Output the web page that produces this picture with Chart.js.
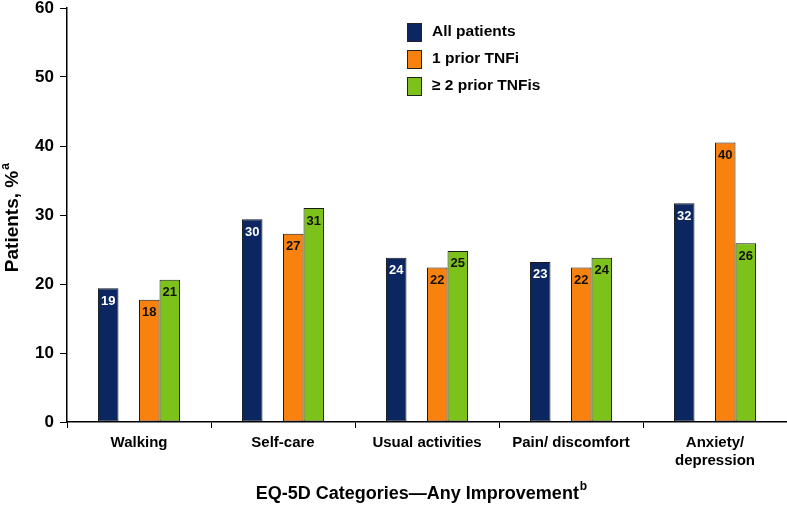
<!DOCTYPE html>
<html>
<head>
<meta charset="utf-8">
<script src="https://cdn.jsdelivr.net/npm/chart.js@4"></script>
<style>
  html, body { margin: 0; padding: 0; background: #fff; }
  #wrap { width: 787px; height: 507px; position: relative; }
</style>
</head>
<body>
<div id="wrap"><canvas id="eqChart"></canvas></div>
<script>
// categories and values (% patients with any improvement)
const categories = ["Walking", "Self-care", "Usual activities", "Pain/ discomfort", ["Anxiety/", "depression"]];
const allPatients = [19.4, 29.4, 23.8, 23.2, 31.7];
const oneTnfi = [17.7, 27.3, 22.4, 22.4, 40.5];
const twoTnfi = [20.6, 31.0, 24.8, 23.8, 25.9];
const shownLabels = [
  [19, 30, 24, 23, 32],
  [18, 27, 22, 22, 40],
  [21, 31, 25, 24, 26]
];
const yTicks = [0, 10, 20, 30, 40, 50, 60];

const FONT = "'Liberation Sans', Arial, sans-serif";
const colors = ["#0b2660", "#f9820f", "#7cc21a"];
const labelColors = ["#ffffff", "#111111", "#111111"];

// bar value labels inside top of bars
const barLabels = {
  id: "barLabels",
  afterDatasetsDraw(chart) {
    const ctx = chart.ctx;
    ctx.save();
    ctx.font = "bold 13px " + FONT;
    ctx.textAlign = "center";
    ctx.textBaseline = "middle";
    [0, 2, 3].forEach((dsIdx, k) => {
      chart.getDatasetMeta(dsIdx).data.forEach((bar, i) => {
        ctx.fillStyle = labelColors[k];
        ctx.fillText(shownLabels[k][i], bar.x, bar.y + 13);
      });
    });
    ctx.restore();
  }
};

// legend + axis titles with superscripts
const extras = {
  id: "extras",
  afterDraw(chart) {
    const ctx = chart.ctx;
    const area = chart.chartArea;
    ctx.save();
    // legend
    const items = [0, 2, 3];
    ctx.font = "bold 15.5px " + FONT;
    ctx.textBaseline = "middle";
    items.forEach((dsIdx, k) => {
      const ds = chart.data.datasets[dsIdx];
      const y = 32 + k * 27;
      ctx.fillStyle = ds.backgroundColor;
      ctx.fillRect(407, y - 9, 15, 19);
      ctx.strokeStyle = "#222";
      ctx.lineWidth = 1;
      ctx.strokeRect(407.5, y - 8.5, 14, 18);
      ctx.fillStyle = "#000";
      ctx.textAlign = "left";
      ctx.fillText(ds.label, 432, y);
    });

    // x title
    ctx.fillStyle = "#000";
    ctx.font = "bold 18px " + FONT;
    const xt = "EQ-5D Categories\u2014Any Improvement";
    const w = ctx.measureText(xt).width;
    ctx.font = "bold 12px " + FONT;
    const ws = ctx.measureText("b").width;
    const x0 = (area.left + area.right) / 2 - (w + ws) / 2 - 6;
    ctx.font = "bold 18px " + FONT;
    ctx.textAlign = "left";
    ctx.fillText(xt, x0, 494);
    ctx.font = "bold 12px " + FONT;
    ctx.fillText("b", x0 + w + 1, 487);

    // y title
    ctx.translate(13, 217);
    ctx.rotate(-Math.PI / 2);
    ctx.font = "bold 19px " + FONT;
    const yt = "Patients, %";
    const yw = ctx.measureText(yt).width;
    ctx.fillText(yt, -(yw + 9) / 2, 0);
    ctx.font = "bold 12px " + FONT;
    ctx.fillText("a", -(yw + 9) / 2 + yw + 1, -7);
    ctx.restore();
  }
};

const ctx = document.getElementById("eqChart").getContext("2d");
new Chart(ctx, {
  type: "bar",
  data: {
    labels: categories,
    datasets: [
      { label: "All patients", data: allPatients, backgroundColor: colors[0] },
      { label: "", data: categories.map(() => null), backgroundColor: "rgba(0,0,0,0)" },
      { label: "1 prior TNFi", data: oneTnfi, backgroundColor: colors[1] },
      { label: "\u2265 2 prior TNFis", data: twoTnfi, backgroundColor: colors[2] }
    ].map(d => Object.assign(d, {
      borderColor: "#1a1a1a",
      borderWidth: 1,
      borderSkipped: false,
      categoryPercentage: 0.57,
      barPercentage: 1.0
    }))
  },
  options: {
    responsive: true,
    maintainAspectRatio: false,
    animation: false,
    layout: { padding: { top: 8, right: 0, left: 0, bottom: 0 } },
    plugins: {
      legend: { display: false },
      tooltip: { enabled: false }
    },
    scales: {
      x: {
        grid: {
          offset: true,
          drawOnChartArea: false,
          drawTicks: true,
          tickLength: 6,
          color: "#000"
        },
        border: { color: "#000", width: 1.5 },
        ticks: {
          color: "#000",
          font: { family: FONT, size: 15, weight: "bold" },
          padding: 6,
          maxRotation: 0,
          autoSkip: false
        },
        afterFit(scale) { scale.height = 85; }
      },
      y: {
        min: 0,
        max: 60,
        afterBuildTicks(scale) { scale.ticks = yTicks.map(v => ({ value: v })); },
        grid: {
          drawOnChartArea: false,
          drawTicks: true,
          tickLength: 7,
          color: "#000"
        },
        border: { color: "#000", width: 1.5 },
        ticks: {
          color: "#000",
          font: { family: FONT, size: 17, weight: "bold" },
          padding: 6
        },
        afterFit(scale) {
          scale.width = 67;
          scale.paddingTop = 0;
          scale.paddingBottom = 0;
        }
      }
    }
  },
  plugins: [barLabels, extras]
});
</script>
</body>
</html>
